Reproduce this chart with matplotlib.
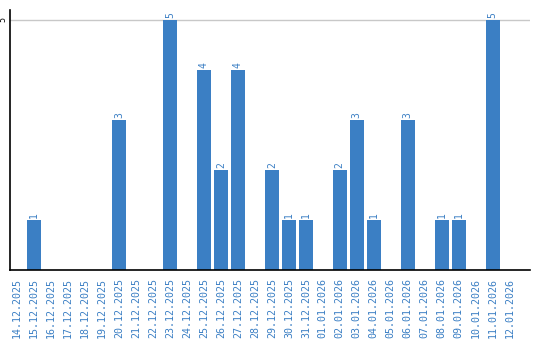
import matplotlib
matplotlib.use("Agg")
import matplotlib.pyplot as plt

dates = ["14.12.2025", "15.12.2025", "16.12.2025", "17.12.2025", "18.12.2025",
         "19.12.2025", "20.12.2025", "21.12.2025", "22.12.2025", "23.12.2025",
         "24.12.2025", "25.12.2025", "26.12.2025", "27.12.2025", "28.12.2025",
         "29.12.2025", "30.12.2025", "31.12.2025", "01.01.2026", "02.01.2026",
         "03.01.2026", "04.01.2026", "05.01.2026", "06.01.2026", "07.01.2026",
         "08.01.2026", "09.01.2026", "10.01.2026", "11.01.2026", "12.01.2026"]
values = [0, 1, 0, 0, 0, 0, 3, 0, 0, 5,
          0, 4, 2, 4, 0, 2, 1, 1, 0, 2,
          3, 1, 0, 3, 0, 1, 1, 0, 5, 0]

blue = "#3b7fc4"
fig = plt.figure(figsize=(5.4, 3.4), dpi=100)
ax = fig.add_axes([10/540, 1-270/340, 520/540, 260/340])
x = list(range(len(dates)))
ax.bar(x, values, width=0.82, color=blue, zorder=2)
for xi, v in zip(x, values):
    if v > 0:
        ax.text(xi, v + 0.04, str(v), rotation=90, ha="center", va="bottom",
                color=blue, fontsize=7, family="DejaVu Sans Mono")
ax.set_xlim(-0.42, 30.2)
ax.set_ylim(0, 5.2)
ax.set_yticks([5])
ax.set_yticklabels(["5"], rotation=90, va="center", ha="center", fontsize=6, family="DejaVu Sans Mono")
ax.set_xticks(x)
ax.set_xticklabels(dates, rotation=90, fontsize=7.2, family="DejaVu Sans Mono", color=blue)
ax.tick_params(length=0, pad=6)
ax.tick_params(axis="y", pad=5)
ax.axhline(5, color="#c8c8c8", lw=1, zorder=1)
for s in ["top", "right"]:
    ax.spines[s].set_visible(False)
ax.spines["left"].set_linewidth(1.2)
ax.spines["bottom"].set_linewidth(1.2)
fig.savefig("out.png", dpi=100)
